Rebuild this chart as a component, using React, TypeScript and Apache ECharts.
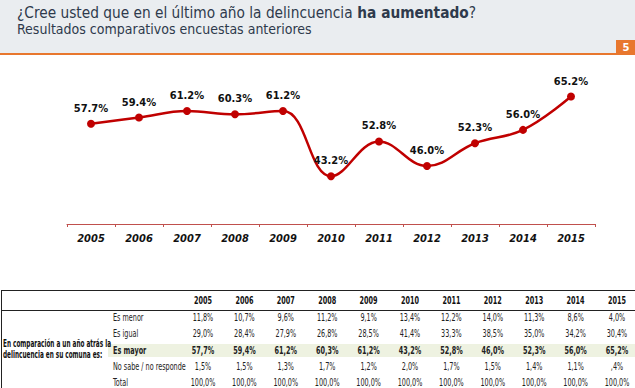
import React, { useEffect, useRef } from "react";
import * as echarts from "echarts";

const years = ["2005", "2006", "2007", "2008", "2009", "2010", "2011", "2012", "2013", "2014", "2015"];
const esMenor = [11.8, 10.7, 9.6, 11.2, 9.1, 13.4, 12.2, 14.0, 11.3, 8.6, 4.0];
const esIgual = [29.0, 28.4, 27.9, 26.8, 28.5, 41.4, 33.3, 38.5, 35.0, 34.2, 30.4];
const esMayor = [57.7, 59.4, 61.2, 60.3, 61.2, 43.2, 52.8, 46.0, 52.3, 56.0, 65.2];
const noSabe = [1.5, 1.5, 1.3, 1.7, 1.2, 2.0, 1.7, 1.5, 1.4, 1.1, 0.4];
const total = [100, 100, 100, 100, 100, 100, 100, 100, 100, 100, 100];

const rowLabels = ["Es menor", "Es igual", "Es mayor", "No sabe / no responde", "Total"];
const rowData = [esMenor, esIgual, esMayor, noSabe, total];
const groupLabel = ["En comparación a un año atrás la", "delincuencia en su comuna es:"];

const titleMain = "¿Cree usted que en el último año la delincuencia ";
const titleBold = "ha aumentado";
const subtitle = "Resultados comparativos encuestas anteriores";
const pageNo = "5";

const fmt = (v: number) => {
  let s = v.toFixed(1).replace(".", ",");
  if (v < 1) s = s.replace(/^0/, "");
  return s + "%";
};

const COND = "'DejaVu Sans Condensed', 'DejaVu Sans', sans-serif";
const TSX = 0.72;
const TFS = 10;

export default function App() {
  const ref = useRef<HTMLDivElement>(null);
  useEffect(() => {
    const chart = echarts.init(ref.current!, null, { renderer: "svg" });
    const graphics: any[] = [];
    // header
    graphics.push({ type: "rect", shape: { x: 0, y: 0, width: 635, height: 53 }, style: { fill: "#eaedf0" }, silent: true });
    graphics.push({ type: "rect", shape: { x: 0, y: 53, width: 635, height: 2 }, style: { fill: "#e8772e" } });
    graphics.push({ type: "rect", shape: { x: 616, y: 40, width: 19, height: 15 }, style: { fill: "#e8772e" } });
    graphics.push({
      type: "text", x: 626, y: 47.5,
      style: { text: pageNo, fill: "#fff", fontSize: 10, fontWeight: "bold", fontFamily: "DejaVu Sans", align: "center", verticalAlign: "middle" },
    });
    graphics.push({
      type: "text", x: 17, y: 12, scaleX: 0.955,
      style: {
        text: titleMain + "{b|" + titleBold + "}?",
        fill: "#2e3a4c", fontSize: 16, fontFamily: COND,
        verticalAlign: "middle",
        rich: { b: { fontWeight: "bold", fontSize: 16, fill: "#2e3a4c", fontFamily: COND } },
      },
    });
    graphics.push({
      type: "text", x: 17, y: 28.5,
      style: { text: subtitle, fill: "#2e3a4c", fontSize: 14, fontFamily: COND, verticalAlign: "middle" },
    });

    // table
    const colX = (i: number) => 203 + i * 41.4;
    const rowY = [318, 334, 350.5, 367, 383];
    graphics.push({ type: "rect", shape: { x: 108, y: 344, width: 527, height: 13 }, style: { fill: "#eef2e1" } });
    graphics.push({ type: "line", shape: { x1: 1, y1: 290.5, x2: 635, y2: 290.5 }, style: { stroke: "#222", lineWidth: 1 } });
    graphics.push({ type: "line", shape: { x1: 1, y1: 310.5, x2: 635, y2: 310.5 }, style: { stroke: "#222", lineWidth: 1 } });
    graphics.push({ type: "line", shape: { x1: 1.5, y1: 290, x2: 1.5, y2: 388 }, style: { stroke: "#222", lineWidth: 1 } });
    years.forEach((y, i) => {
      graphics.push({
        type: "text", x: colX(i), y: 300.5, scaleX: TSX,
        style: { text: y, fill: "#111", fontSize: TFS, fontWeight: "bold", fontFamily: COND, align: "center", verticalAlign: "middle" },
      });
    });
    rowLabels.forEach((lab, r) => {
      const bold = r === 2;
      graphics.push({
        type: "text", x: 113, y: rowY[r], scaleX: TSX,
        style: { text: lab, fill: "#222", fontSize: TFS, fontWeight: bold ? "bold" : "normal", fontFamily: COND, verticalAlign: "middle" },
      });
      rowData[r].forEach((v, i) => {
        graphics.push({
          type: "text", x: colX(i), y: rowY[r], scaleX: TSX,
          style: { text: fmt(v), fill: "#222", fontSize: TFS, fontWeight: bold ? "bold" : "normal", fontFamily: COND, align: "center", verticalAlign: "middle" },
        });
      });
    });
    groupLabel.forEach((t, k) => {
      graphics.push({
        type: "text", x: 3, y: 343.5 + k * 11, scaleX: 0.64,
        style: { text: t, fill: "#111", fontSize: TFS, fontWeight: "bold", fontFamily: COND, verticalAlign: "middle" },
      });
    });

    chart.setOption({
      animation: false,
      backgroundColor: "#ffffff",
      graphic: graphics,
      grid: { left: 67, right: 40, top: 43, bottom: 164 },
      xAxis: {
        type: "category",
        data: years,
        boundaryGap: true,
        axisLine: { lineStyle: { color: "#c0504d", width: 1 } },
        axisTick: { show: true, length: 3, lineStyle: { color: "#c0504d" } },
        axisLabel: { color: "#111", fontSize: 11, fontWeight: "bold", fontStyle: "italic", fontFamily: COND, margin: 9 },
      },
      yAxis: { type: "value", min: 30, max: 80, show: false, splitLine: { show: false } },
      series: [
        {
          type: "line",
          data: esMayor,
          smooth: 0.4,
          symbol: "circle",
          symbolSize: 8,
          lineStyle: { color: "#c00000", width: 2.5 },
          itemStyle: { color: "#c00000" },
          label: {
            show: true, position: "top", distance: 6,
            formatter: (p: any) => p.value.toFixed(1) + "%",
            color: "#111", fontSize: 11, fontWeight: "bold", fontFamily: COND,
          },
        },
      ],
    });
    return () => chart.dispose();
  }, []);
  return <div ref={ref} style={{ position: "fixed", left: 0, top: 0, width: 635, height: 388 }} />;
}
